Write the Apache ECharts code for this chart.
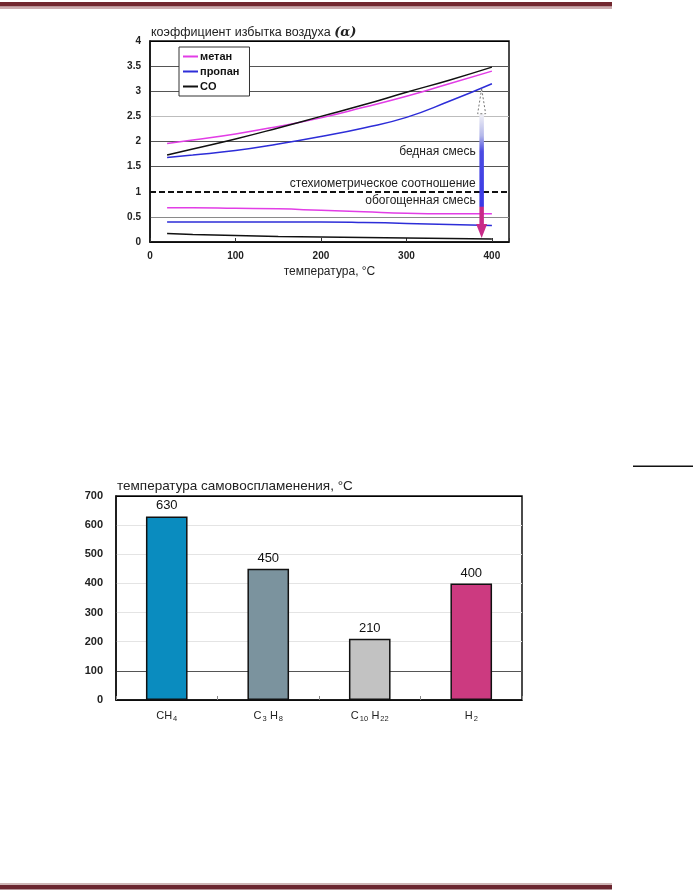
<!DOCTYPE html>
<html>
<head>
<meta charset="utf-8">
<script src="https://cdn.jsdelivr.net/npm/echarts@6/dist/echarts.min.js"></script>
<style>
html,body{margin:0;padding:0;background:#fff;}
#c{width:693px;height:892px;}
</style>
</head>
<body>
<div id="c"></div>
<script>
// ---- Chart 1: excess air coefficient vs temperature ----
const tempX = [20, 50, 100, 150, 200, 250, 300, 350, 400];
const methaneUpper = [1.96, 2.03, 2.15, 2.30, 2.47, 2.68, 2.90, 3.15, 3.40];
const methaneLower = [0.68, 0.68, 0.67, 0.66, 0.63, 0.60, 0.57, 0.56, 0.56];
const propaneUpper = [1.68, 1.73, 1.82, 1.95, 2.10, 2.27, 2.48, 2.80, 3.15];
const propaneLower = [0.40, 0.40, 0.40, 0.40, 0.40, 0.39, 0.37, 0.35, 0.33];
const coUpper = [1.73, 1.85, 2.05, 2.27, 2.50, 2.73, 2.98, 3.22, 3.48];
const coLower = [0.17, 0.15, 0.13, 0.11, 0.10, 0.09, 0.08, 0.07, 0.06];
const tempTicks = [0, 100, 200, 300, 400];
const alphaTicks = [0, 0.5, 1, 1.5, 2, 2.5, 3, 3.5, 4];
const stoichLevel = 1;
const rangeArrow = [388, 3.05, 0.08];
const notes = [
  { name: 'бедная смесь', coord: [381, 1.79] },
  { name: 'стехиометрическое соотношение', coord: [381, 1.17] },
  { name: 'обогощенная смесь', coord: [381, 0.82] }
];

// ---- Chart 2: auto-ignition temperature ----
const fuels = ['CH4', 'C3H8', 'C10H22', 'H2'];
const ignitionTemps = [630, 450, 210, 400];
const fuelColors = ['#0a8cbf', '#7b939e', '#c2c2c2', '#cc3a80'];
const ignitionTicks = [0, 100, 200, 300, 400, 500, 600, 700];

const FONT = '"Liberation Sans", Arial, sans-serif';
const pair = (xs, ys) => xs.map((x, i) => [x, ys[i]]);

function chem(name) {
  return name.replace(/([A-Z][a-z]?)(\d*)/g, (m, el, num) =>
    num ? '{n|' + el + '}{s|' + num + '} ' : '{n|' + el + '}').trim();
}

const chart = echarts.init(document.getElementById('c'), null, { renderer: 'canvas' });

const lineBase = { type: 'line', smooth: true, symbol: 'none', xAxisIndex: 0, yAxisIndex: 0, lineStyle: { width: 1.5 }, silent: true };

const option = {
  backgroundColor: '#fff',
  animation: false,
  textStyle: { fontFamily: FONT },
  title: [
    {
      text: '{t|коэффициент избытка воздуха }{a|(α)}', left: 151, top: 26, padding: 0,
      textStyle: { fontWeight: 'normal', rich: { t: { fontSize: 12.5, fontWeight: 'normal', color: '#222', fontFamily: FONT }, a: { fontSize: 13, fontFamily: '"DejaVu Serif", serif', fontStyle: 'italic', fontWeight: 'bold', color: '#222' } } }
    },
    {
      text: 'температура самовоспламенения, °C', left: 117, top: 479, padding: 0,
      textStyle: { fontSize: 13.5, fontWeight: 'normal', color: '#222', fontFamily: FONT }
    }
  ],
  legend: {
    data: ['метан', 'пропан', 'CO'],
    orient: 'vertical', left: 179, top: 47,
    icon: 'rect', itemWidth: 15, itemHeight: 2, itemGap: 4,
    padding: [4, 10, 4, 4],
    backgroundColor: '#fff', borderColor: '#333', borderWidth: 1,
    textStyle: { fontSize: 11, fontWeight: 'bold', color: '#111', fontFamily: FONT, padding: [0, 0, 0, -3] },
    selectedMode: false
  },
  grid: [
    { left: 150, top: 41, width: 359, height: 201, show: true, borderColor: '#111', borderWidth: 1.5, backgroundColor: 'transparent' },
    { left: 116, top: 496, width: 406, height: 204, show: true, borderColor: '#111', borderWidth: 1.5, backgroundColor: 'transparent' }
  ],
  xAxis: [
    {
      type: 'value', gridIndex: 0, min: tempTicks[0], max: 420, interval: 100,
      name: 'температура, °C', nameLocation: 'middle', nameGap: 24,
      nameTextStyle: { fontSize: 12, color: '#222', fontFamily: FONT },
      axisLine: { show: true, lineStyle: { color: '#111', width: 1.5 } },
      axisTick: { show: true, inside: true, length: 4, lineStyle: { color: '#333' } },
      axisLabel: { fontSize: 10, fontWeight: 'bold', color: '#222', margin: 9, formatter: v => tempTicks.includes(v) ? String(v) : '' },
      splitLine: { show: false }
    },
    {
      type: 'category', gridIndex: 1, data: fuels, boundaryGap: true,
      axisLine: { show: true, lineStyle: { color: '#111', width: 1.5 } },
      axisTick: { show: true, inside: true, length: 4, interval: 0, alignWithLabel: false, lineStyle: { color: '#888' } },
      axisLabel: {
        interval: 0, margin: 9, color: '#222', formatter: v => chem(v),
        rich: {
          n: { fontSize: 11, color: '#222', lineHeight: 14, fontFamily: FONT },
          s: { fontSize: 7.5, color: '#222', lineHeight: 14, verticalAlign: 'bottom', padding: [5, 0, 0, 1], fontFamily: FONT }
        }
      },
      splitLine: { show: false }
    }
  ],
  yAxis: [
    {
      type: 'value', gridIndex: 0, min: alphaTicks[0], max: alphaTicks[alphaTicks.length - 1], interval: 0.5,
      axisLine: { show: true, lineStyle: { color: '#111', width: 1.5 } },
      axisTick: { show: false },
      axisLabel: { fontSize: 10, fontWeight: 'bold', color: '#222', margin: 9 },
      splitLine: { show: true, lineStyle: { width: 1.2, color: ['#000', '#8a8a8a', 'rgba(0,0,0,0)', '#555', '#555', '#bdbdbd', '#555', '#555', '#000'] } }
    },
    {
      type: 'value', gridIndex: 1, min: ignitionTicks[0], max: ignitionTicks[ignitionTicks.length - 1], interval: 100,
      axisLine: { show: true, lineStyle: { color: '#111', width: 1.5 } },
      axisTick: { show: false },
      axisLabel: { fontSize: 11, fontWeight: 'bold', color: '#222', margin: 13 },
      splitLine: { show: true, lineStyle: { width: 1, color: ['#000', '#555', '#e4e4e4', '#e4e4e4', '#e4e4e4', '#e4e4e4', '#e4e4e4', '#000'] } }
    }
  ],
  series: [
    Object.assign({}, lineBase, {
      name: 'метан', data: pair(tempX, methaneUpper), color: '#e23de6', z: 5,
      markLine: {
        silent: true, symbol: 'none', label: { show: false },
        lineStyle: { type: [6, 3], color: '#111', width: 2 },
        data: [{ yAxis: stoichLevel }]
      },
      markPoint: {
        silent: true, symbol: 'circle', symbolSize: 0,
        label: { show: true, position: 'left', distance: 0, formatter: '{b}', fontSize: 12, color: '#222', fontFamily: FONT },
        data: notes
      }
    }),
    Object.assign({}, lineBase, { name: 'метан', data: pair(tempX, methaneLower), color: '#e23de6', z: 5 }),
    Object.assign({}, lineBase, { name: 'пропан', data: pair(tempX, propaneUpper), color: '#2d2dd8', z: 5 }),
    Object.assign({}, lineBase, { name: 'пропан', data: pair(tempX, propaneLower), color: '#2d2dd8', z: 5 }),
    Object.assign({}, lineBase, { name: 'CO', data: pair(tempX, coUpper), color: '#111', z: 5 }),
    Object.assign({}, lineBase, { name: 'CO', data: pair(tempX, coLower), color: '#111', z: 5 }),
    {
      type: 'custom', name: 'arrow', xAxisIndex: 0, yAxisIndex: 0, silent: true, z: 10,
      data: [rangeArrow],
      renderItem: function (params, api) {
        const top = api.coord([api.value(0), api.value(1)]);
        const bot = api.coord([api.value(0), api.value(2)]);
        const cx = top[0];
        const tHL = 25, tHW = 8, bHL = 14, bHW = 11, sW = 4.5;
        const sTop = top[1] + tHL, sBot = bot[1] - bHL;
        return {
          type: 'group',
          children: [
            {
              type: 'rect', shape: { x: cx - sW / 2, y: sTop, width: sW, height: sBot - sTop },
              style: {
                fill: new echarts.graphic.LinearGradient(0, 0, 0, 1, [
                  { offset: 0, color: '#f2f2f6' },
                  { offset: 0.2, color: '#b4b8ea' },
                  { offset: 0.34, color: '#4c4ce2' },
                  { offset: 0.84, color: '#3838e6' },
                  { offset: 0.845, color: '#c82a88' },
                  { offset: 1, color: '#c82a88' }
                ])
              }
            },
            {
              type: 'polygon', shape: { points: [[cx, top[1]], [cx - tHW / 2, sTop], [cx + tHW / 2, sTop]] },
              style: { fill: '#fff', stroke: '#777', lineWidth: 1, lineDash: [2, 2] }
            },
            {
              type: 'polygon', shape: { points: [[cx - bHW / 2, sBot], [cx + bHW / 2, sBot], [cx, bot[1]]] },
              style: { fill: '#c82a88' }
            }
          ]
        };
      }
    },
    {
      type: 'bar', name: 'ignition', xAxisIndex: 1, yAxisIndex: 1, barWidth: '41%', silent: true,
      data: ignitionTemps.map((v, i) => ({ value: v, itemStyle: { color: fuelColors[i], borderColor: '#111', borderWidth: 1.5 } })),
      label: { show: true, position: 'top', distance: 4, fontSize: 13, color: '#111', fontFamily: FONT }
    }
  ],
  graphic: [
    { type: 'rect', shape: { x: 0, y: 2, width: 612, height: 4.5 }, style: { fill: '#72272f' }, silent: true },
    { type: 'rect', shape: { x: 0, y: 7.5, width: 612, height: 1 }, style: { fill: '#9a5a60' }, silent: true },
    { type: 'rect', shape: { x: 0, y: 883.5, width: 612, height: 1 }, style: { fill: '#a07070' }, silent: true },
    { type: 'rect', shape: { x: 0, y: 885, width: 612, height: 4.5 }, style: { fill: '#6b2630' }, silent: true },
    { type: 'rect', shape: { x: 633, y: 465.5, width: 60, height: 1.5 }, style: { fill: '#111' }, silent: true }
  ]
};

chart.setOption(option);
</script>
</body>
</html>
